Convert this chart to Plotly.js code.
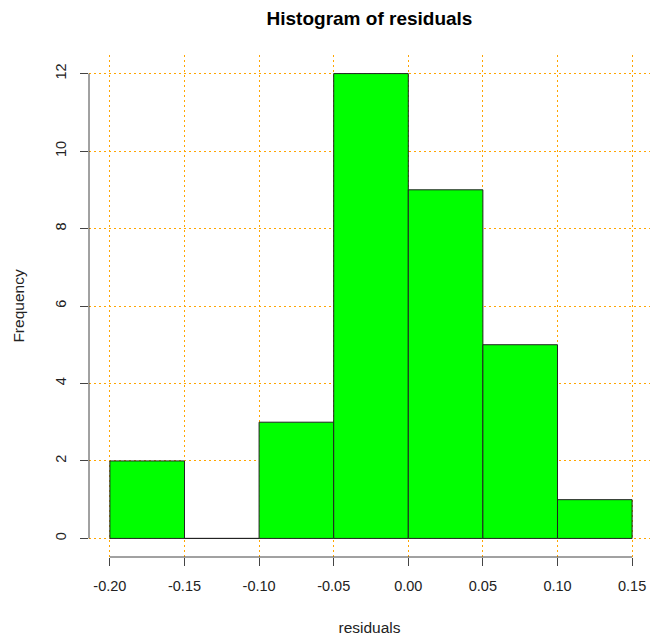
<!DOCTYPE html>
<html>
<head>
<meta charset="utf-8">
<script src="https://cdn.plot.ly/plotly-3.0.1.min.js"></script>
<style>html,body{margin:0;padding:0;background:#fff;}#chart{width:650px;height:637px;}</style>
</head>
<body>
<div id="chart"></div>
<script>
const breaks = [-0.20, -0.15, -0.10, -0.05, 0.00, 0.05, 0.10, 0.15];
const counts = [2, 0, 3, 12, 9, 5, 1];
const xTickVals = [-0.20, -0.15, -0.10, -0.05, 0.00, 0.05, 0.10, 0.15];
const xTickText = ["-0.20", "-0.15", "-0.10", "-0.05", "0.00", "0.05", "0.10", "0.15"];
const yTickVals = [0, 2, 4, 6, 8, 10, 12];

const centers = counts.map((c, i) => (breaks[i] + breaks[i + 1]) / 2);
const widths = counts.map((c, i) => breaks[i + 1] - breaks[i]);

const font = "Liberation Sans, Arial, sans-serif";

const trace = {
  type: "bar",
  x: centers,
  y: counts,
  width: widths,
  marker: { color: "#00FF00", line: { color: "#222222", width: 1 } },
  hoverinfo: "x+y"
};

const layout = {
  width: 650, height: 637,
  margin: { l: 89, r: 0, t: 55, b: 80 },
  paper_bgcolor: "#ffffff",
  plot_bgcolor: "#ffffff",
  showlegend: false,
  title: {
    text: "<b>Histogram of residuals</b>",
    font: { family: font, size: 19, color: "#000" },
    x: 0.5, xref: "paper", xanchor: "center",
    y: 1 - 18 / 637, yref: "container", yanchor: "middle"
  },
  xaxis: {
    range: [-0.214, 0.162],
    tickvals: xTickVals,
    ticktext: xTickText,
    ticks: "outside", ticklen: 8, tickwidth: 1, tickcolor: "#444",
    ticklabelstandoff: 8,
    showline: false, zeroline: false,
    showgrid: true, gridcolor: "#FFA500", griddash: "2px,3px", gridwidth: 1,
    tickfont: { family: font, size: 14.5, color: "#222" },
    title: { text: "residuals", font: { family: font, size: 15.5, color: "#222" }, standoff: 28 }
  },
  yaxis: {
    range: [-0.48, 12.48],
    tickvals: yTickVals,
    ticks: "outside", ticklen: 8, tickwidth: 1, tickcolor: "#444",
    tickangle: -90,
    ticklabelstandoff: 8,
    showline: false, zeroline: false,
    showgrid: true, gridcolor: "#FFA500", griddash: "2px,3px", gridwidth: 1,
    tickfont: { family: font, size: 14.5, color: "#222" },
    title: { text: "Frequency", font: { family: font, size: 15.5, color: "#222" }, standoff: 24 }
  },
  shapes: [
    { type: "line", xref: "paper", x0: 0, x1: 0, yref: "y", y0: yTickVals[0], y1: yTickVals[yTickVals.length - 1],
      line: { color: "#444", width: 1 } },
    { type: "line", xref: "x", x0: xTickVals[0], x1: xTickVals[xTickVals.length - 1], yref: "paper", y0: 0, y1: 0,
      line: { color: "#444", width: 1 } }
  ]
};

Plotly.newPlot("chart", [trace], layout, { displayModeBar: false, staticPlot: true });
</script>
</body>
</html>
